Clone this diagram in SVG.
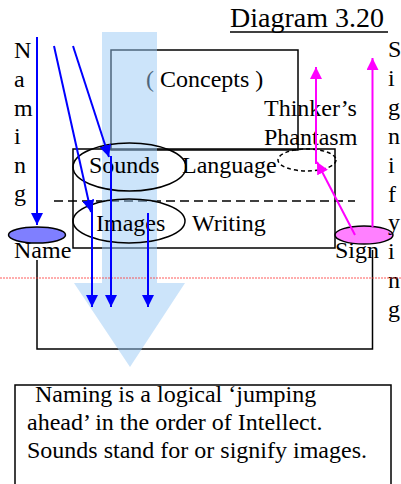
<svg xmlns="http://www.w3.org/2000/svg" width="401" height="484" viewBox="0 0 401 484">
  <style>
    text { font-family: "Liberation Serif", "Times New Roman", serif; font-size: 24px; fill: #000; }
    .box { fill: none; stroke: #000; stroke-width: 1.5; }
    .dash { fill: none; stroke: #000; stroke-width: 1.5; stroke-dasharray: 9 5; }
    .blue { fill: none; stroke: #0000ff; stroke-width: 2; }
    .pink { fill: none; stroke: #ff00ff; stroke-width: 2; }
  </style>
  <defs>
    <marker id="headBlue" markerUnits="userSpaceOnUse" markerWidth="12" markerHeight="12" refX="12" refY="6" orient="auto">
      <path d="M0,0 L12,6 L0,12 Z" fill="#0000ff"/>
    </marker>
    <marker id="headPink" markerUnits="userSpaceOnUse" markerWidth="12" markerHeight="12" refX="12" refY="6" orient="auto">
      <path d="M0,0 L12,6 L0,12 Z" fill="#ff00ff"/>
    </marker>
  </defs>

  <rect width="401" height="484" fill="#fff"/>

  <!-- title -->
  <g id="title">
    <text x="230" y="27" style="font-size:28px">Diagram 3.20</text>
    <line x1="230" y1="32" x2="388" y2="32" stroke="#000" stroke-width="1.5"/>
  </g>

  <!-- concepts -->
  <g id="concepts">
    <rect class="box" x="111" y="50" width="187" height="100"/>
    <text x="146" y="87">( Concepts )</text>
  </g>

  <!-- language / writing frame -->
  <g id="language">
    <rect class="box" x="73" y="149" width="262" height="99"/>
    <line class="dash" x1="54" y1="201" x2="355" y2="201"/>
    <text x="182" y="173">Language</text>
    <text x="192" y="231">Writing</text>
  </g>

  <!-- frame joining Name and Sign -->
  <g id="name-sign-frame">
    <polyline class="box" points="37,260 37,349 372.5,349 372.5,250"/>
  </g>

  <!-- broad downward arrow -->
  <g id="big-arrow">
    <path d="M102,32 H157 V283 H185 L130,367 L74,283 H102 Z" fill="#99c9f5" fill-opacity="0.5"/>
  </g>

  <g id="sounds">
    <ellipse class="box" cx="129.5" cy="167" rx="56.5" ry="24"/>
    <text x="89" y="173">Sounds</text>
  </g>

  <g id="images">
    <ellipse class="box" cx="129" cy="221" rx="56" ry="22"/>
    <text x="96" y="231">Images</text>
  </g>

  <g id="phantasm">
    <ellipse cx="307" cy="160" rx="29" ry="11" fill="none" stroke="#000" stroke-width="1.5" stroke-dasharray="4 3"/>
    <text x="264" y="116">Thinker’s</text>
    <text x="264" y="145">Phantasm</text>
  </g>

  <g id="name">
    <ellipse cx="37" cy="235" rx="28.5" ry="8" fill="#7f7fff" stroke="#000" stroke-width="1.5"/>
    <text x="14" y="258">Name</text>
  </g>

  <g id="sign">
    <ellipse cx="364" cy="235" rx="29" ry="9" fill="#ff80ff" stroke="#000" stroke-width="1.5"/>
    <text x="335" y="258">Sign</text>
  </g>

  <!-- vertical words -->
  <g id="naming-column">
    <text x="14" y="58">N</text>
    <text x="14" y="87">a</text>
    <text x="14" y="116">m</text>
    <text x="14" y="144">i</text>
    <text x="14" y="173">n</text>
    <text x="14" y="201">g</text>
  </g>

  <g id="signifying-column">
    <text x="388" y="57">S</text>
    <text x="388" y="86">i</text>
    <text x="388" y="115">g</text>
    <text x="388" y="144">n</text>
    <text x="388" y="173">i</text>
    <text x="388" y="202">f</text>
    <text x="388" y="230">y</text>
    <text x="388" y="259">i</text>
    <text x="388" y="288">n</text>
    <text x="388" y="317">g</text>
  </g>

  <!-- red guide line -->
  <line x1="0" y1="278" x2="401" y2="278" stroke="#ff3030" stroke-width="0.8" stroke-dasharray="2 1"/>

  <!-- note -->
  <g id="note">
    <rect class="box" x="15" y="385" width="376" height="110"/>
    <text x="35" y="402">Naming is a logical ‘jumping</text>
    <text x="27" y="430">ahead’ in the order of Intellect.</text>
    <text x="27" y="458">Sounds stand for or signify images.</text>
  </g>

  <!-- connectors -->
  <g id="connectors">
    <line class="blue" x1="37" y1="37" x2="37" y2="225" marker-end="url(#headBlue)"/>
    <line class="blue" x1="54" y1="46" x2="91" y2="212" marker-end="url(#headBlue)"/>
    <line class="blue" x1="73" y1="46" x2="109" y2="157" marker-end="url(#headBlue)"/>
    <line class="blue" x1="92" y1="204" x2="92" y2="307" marker-end="url(#headBlue)"/>
    <line class="blue" x1="111" y1="156" x2="111" y2="307" marker-end="url(#headBlue)"/>
    <line class="blue" x1="148" y1="213" x2="148" y2="307" marker-end="url(#headBlue)"/>
    <line class="pink" x1="316" y1="164" x2="316" y2="67" marker-end="url(#headPink)"/>
    <line class="pink" x1="372.5" y1="227" x2="372.5" y2="58" marker-end="url(#headPink)"/>
    <line class="pink" x1="355" y1="235" x2="317" y2="162" marker-end="url(#headPink)"/>
  </g>
</svg>
